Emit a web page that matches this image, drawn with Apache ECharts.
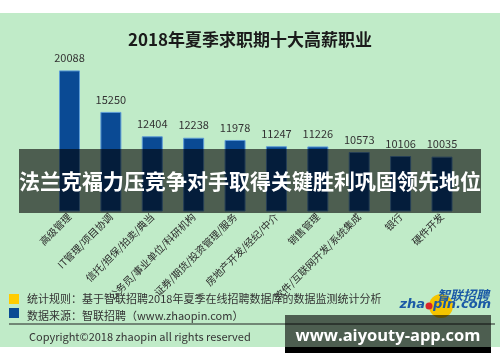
<!DOCTYPE html>
<html><head><meta charset="utf-8">
<script src="https://cdn.jsdelivr.net/npm/echarts@6/dist/echarts.min.js"></script>
<style>html,body{margin:0;padding:0;background:#fff}#c{width:500px;height:362px}</style>
</head><body><div id="c"></div>
<script>
var categories = ['高级管理','IT管理/项目协调','信托/担保/拍卖/典当','公务员/事业单位/科研机构','证券/期货/投资管理/服务','房地产开发/经纪/中介','销售管理','软件/互联网开发/系统集成','银行','硬件开发'];
var salaries = [20088,15250,12404,12238,11978,11247,11226,10573,10106,10035];
var titleText = '2018年夏季求职期十大高薪职业';
var noteRule = '统计规则：基于智联招聘2018年夏季在线招聘数据库的数据监测统计分析';
var noteSource = '数据来源：智联招聘（www.zhaopin.com）';
var copyright = 'Copyright©2018 zhaopin all rights reserved';
var bannerText = '法兰克福力压竞争对手取得关键胜利巩固领先地位';
var watermark = 'www.aiyouty-app.com';

var FONT = '"Noto Sans CJK SC","Noto Sans",sans-serif';
var chart = echarts.init(document.getElementById('c'));
chart.setOption({
  backgroundColor: '#ffffff',
  animation: false,
  title: {text: titleText, left: 'center', top: 26, textStyle: {fontFamily: FONT, fontSize: 17, fontWeight: 'bold', color: '#1a1a1a'}},
  grid: {left: 48.8, right: 37.3, top: 60, bottom: 151},
  xAxis: {type: 'category', data: categories,
    axisLine: {show: false}, axisTick: {show: false},
    axisLabel: {rotate: 45, interval: 0, margin: 4, fontFamily: FONT, fontSize: 10, color: '#2a2a2a'}},
  yAxis: {type: 'value', min: 3700, max: 21300, show: false, splitLine: {show: false}},
  series: [{type: 'bar', data: salaries, barWidth: 21, z: 2,
    itemStyle: {color: '#0a4a94', borderColor: '#5d9bd6', borderWidth: 1},
    label: {show: true, position: 'top', distance: 7, fontFamily: FONT, fontSize: 11, color: '#333'}}],
  graphic: [
    {type: 'rect', z: -10, shape: {x: 0, y: 13, width: 500, height: 334}, style: {fill: '#c0ebc8'}},
    {type: 'rect', z: 100, shape: {x: 19, y: 149, width: 462, height: 64}, style: {fill: 'rgba(0,0,0,0.6)'}},
    {type: 'text', z: 101, x: 250, y: 181, style: {text: bannerText, fill: '#fff', font: 'bold 21px ' + FONT, align: 'center', verticalAlign: 'middle'}},
    {type: 'rect', z: 10, shape: {x: 9, y: 294, width: 10, height: 10}, style: {fill: '#ffcc00'}},
    {type: 'rect', z: 10, shape: {x: 9, y: 308, width: 10, height: 10}, style: {fill: '#0a4a94'}},
    {type: 'text', z: 10, x: 27, y: 299, style: {text: noteRule, fill: '#333', font: '11px ' + FONT, verticalAlign: 'middle'}},
    {type: 'text', z: 10, x: 27, y: 316, style: {text: noteSource, fill: '#333', font: '11px ' + FONT, verticalAlign: 'middle'}},
    {type: 'line', z: 10, shape: {x1: 9, y1: 324, x2: 495, y2: 324}, style: {stroke: '#222', lineWidth: 1}},
    {type: 'text', z: 10, x: 29, y: 337, style: {text: copyright, fill: '#333', font: '11px ' + FONT, verticalAlign: 'middle'}},
    {type: 'circle', z: 10, shape: {cx: 441, cy: 306, r: 12}, style: {fill: '#f5c400'}},
    {type: 'text', z: 11, x: 489, y: 295, style: {text: '智联招聘', fill: '#1b5aa6', font: 'italic bold 13px ' + FONT, align: 'right', verticalAlign: 'middle'}},
    {type: 'text', z: 11, x: 425, y: 305, style: {text: 'zha', fill: '#1b5aa6', font: 'italic bold 13px "DejaVu Sans",sans-serif', align: 'right', verticalAlign: 'middle'}},
    {type: 'circle', z: 11, shape: {cx: 429, cy: 306, r: 3.5}, style: {fill: '#d9252b'}},
    {type: 'text', z: 11, x: 433, y: 305, style: {text: 'pin.com', fill: '#1b5aa6', font: 'italic bold 13px "DejaVu Sans",sans-serif', verticalAlign: 'middle'}},
    {type: 'rect', z: 100, shape: {x: 285, y: 315, width: 206, height: 32}, style: {fill: 'rgba(0,0,0,0.6)'}},
    {type: 'rect', z: 100, shape: {x: 285, y: 347, width: 206, height: 6}, style: {fill: '#000'}},
    {type: 'text', z: 101, x: 388, y: 336, style: {text: watermark, fill: '#fff', font: 'bold 16.5px "Open Sans","Noto Sans",sans-serif', align: 'center', verticalAlign: 'middle'}}
  ]
});
</script></body></html>
